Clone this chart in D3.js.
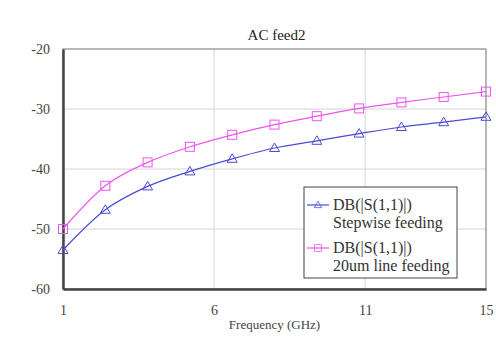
<!DOCTYPE html>
<html>
<head>
<meta charset="utf-8">
<script src="https://cdn.jsdelivr.net/npm/d3@7"></script>
<style>
  body { margin: 0; background: #fff; }
  svg text { font-family: "Liberation Serif", "Times New Roman", "DejaVu Serif", serif !important; }
</style>
</head>
<body>
<div id="chart"></div>
<script>
// data
const freq = [1, 2.4, 3.8, 5.2, 6.6, 8, 9.4, 10.8, 12.2, 13.6, 15]
const stepwise = [-53.5, -46.8, -42.9, -40.4, -38.3, -36.5, -35.3, -34.1, -33.0, -32.2, -31.3]
const lineFeed = [-50.0, -42.8, -38.9, -36.3, -34.3, -32.6, -31.2, -29.9, -28.9, -28.0, -27.1]
const xTicks = [1, 6, 11, 15]
const yTicks = [-60, -50, -40, -30, -20]

const margin = {top: 49, right: 10, bottom: 49, left: 63},
    width = 496 - margin.left - margin.right,
    height = 338 - margin.top - margin.bottom;

const svg = d3.select("#chart")
  .append("svg")
    .attr("width", 496)
    .attr("height", 338)
  .append("g")
    .attr("transform", `translate(${margin.left}, ${margin.top})`);

const x = d3.scaleLinear().domain([1, 15]).range([0, width]);
const y = d3.scaleLinear().domain([-60, -20]).range([height, 0]);

// grid
svg.append("g")
  .selectAll("line")
  .data(xTicks.slice(1, -1))
  .join("line")
    .attr("x1", d => x(d)).attr("x2", d => x(d))
    .attr("y1", 0).attr("y2", height)
    .attr("stroke", "#d4d4d4").attr("stroke-width", 1);
svg.append("g")
  .selectAll("line")
  .data(yTicks.slice(1, -1))
  .join("line")
    .attr("x1", 0).attr("x2", width)
    .attr("y1", d => y(d)).attr("y2", d => y(d))
    .attr("stroke", "#d4d4d4").attr("stroke-width", 1);

// frame: top/right thin gray, left/bottom dark
svg.append("rect")
  .attr("width", width).attr("height", height)
  .attr("fill", "none").attr("stroke", "#888").attr("stroke-width", 1.2);

// axes
const xAxis = svg.append("g")
  .attr("transform", `translate(0, ${height})`)
  .call(d3.axisBottom(x).tickValues(xTicks).tickSize(0).tickPadding(16).tickFormat(d => String(d)));
xAxis.select(".domain").attr("stroke", "#444").attr("stroke-width", 2.5);
xAxis.selectAll("text").style("font-size", "14px").attr("fill", "#444");

const yAxis = svg.append("g")
  .call(d3.axisLeft(y).tickValues(yTicks).tickSize(0).tickPadding(13).tickFormat(d => String(d)));
yAxis.select(".domain").attr("stroke", "#444").attr("stroke-width", 2.5);
yAxis.selectAll("text").style("font-size", "14px").attr("fill", "#444");

// title and axis label
svg.append("text")
  .attr("x", width / 2 + 2).attr("y", -9)
  .attr("text-anchor", "middle")
  .style("font-size", "15px").attr("fill", "#222")
  .text("AC feed2");

svg.append("text")
  .attr("x", width / 2).attr("y", height + 40)
  .attr("text-anchor", "middle")
  .style("font-size", "13px").attr("fill", "#444")
  .text("Frequency (GHz)");

const series = [
  {name: "Stepwise feeding", values: stepwise, color: "#4b4bd8", shape: "tri"},
  {name: "20um line feeding", values: lineFeed, color: "#ee55ee", shape: "sq"}
]

const line = d3.line()
  .curve(d3.curveMonotoneX)
  .x(d => x(d[0]))
  .y(d => y(d[1]));

function marker(g, shape, color) {
  if (shape === "tri") {
    g.append("path").attr("d", "M0,-5L5,3.5L-5,3.5Z")
      .attr("fill", "none").attr("stroke", color).attr("stroke-width", 1);
  } else {
    g.append("rect").attr("x", -4.5).attr("y", -4.5).attr("width", 9).attr("height", 9)
      .attr("fill", "none").attr("stroke", color).attr("stroke-width", 1);
  }
}

series.forEach(s => {
  const pts = freq.map((f, i) => [f, s.values[i]]);
  svg.append("path")
    .datum(pts)
    .attr("d", line)
    .attr("fill", "none")
    .attr("stroke", s.color)
    .attr("stroke-width", 1.2);
  pts.forEach(p => {
    const g = svg.append("g").attr("transform", `translate(${x(p[0])}, ${y(p[1])})`);
    marker(g, s.shape, s.color);
  });
});

// legend
const lg = svg.append("g").attr("transform", `translate(${304 - margin.left}, ${187 - margin.top})`);
lg.append("rect")
  .attr("width", 153).attr("height", 91)
  .attr("fill", "#fff").attr("stroke", "#444").attr("stroke-width", 1);
series.forEach((s, i) => {
  const yy = 18 + i * 43;
  lg.append("line").attr("x1", 3).attr("x2", 25).attr("y1", yy).attr("y2", yy)
    .attr("stroke", s.color).attr("stroke-width", 1.2);
  const m = lg.append("g").attr("transform", `translate(14, ${yy}) scale(0.75)`);
  marker(m, s.shape, s.color);
  lg.append("text").attr("x", 29).attr("y", yy + 5)
    .style("font-size", "16px").attr("fill", "#333").text("DB(|S(1,1)|)");
  lg.append("text").attr("x", 29).attr("y", yy + 23)
    .style("font-size", "16px").attr("fill", "#333").text(s.name);
});
</script>
</body>
</html>
